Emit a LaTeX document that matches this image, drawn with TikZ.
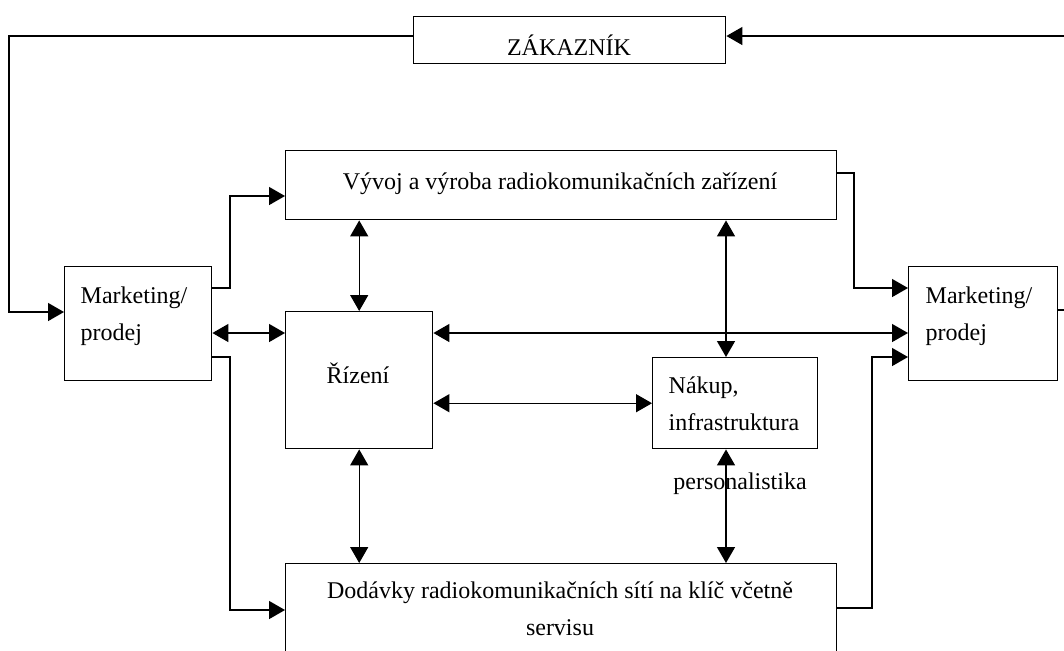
\documentclass[tikz,border=0pt]{standalone}
\usepackage{fontspec}
\setmainfont{Liberation Serif}
\usetikzlibrary{arrows.meta}

\tikzset{
  box/.style={draw, anchor=north west, inner sep=0pt},
  txt/.style={font=\fontsize{12}{18.5}\selectfont, inner sep=0pt},
  >={Triangle[length=8pt,width=9pt]}
}

\begin{document}
\begin{tikzpicture}[x=0.5pt,y=-0.5pt,line width=0.7pt]
  \path[use as bounding box, fill=white] (0,0) rectangle (1064,650);
  \clip (0,0) rectangle (1064,650);
  \node[box, minimum width=156pt, minimum height=23.5pt] at (413,16) (zak) {};
  \node[box, minimum width=275.5pt, minimum height=34.5pt] at (285,150) (vyvoj) {};
  \node[box, minimum width=73.5pt, minimum height=57pt] at (64,266) (mktL) {};
  \node[box, minimum width=74.5pt, minimum height=57pt] at (908,266) (mktR) {};
  \node[box, minimum width=73.5pt, minimum height=68.5pt] at (285,311) (rizeni) {};
  \node[box, minimum width=82.5pt, minimum height=45.5pt] at (652,357) (nakup) {};
  \node[box, minimum width=275.5pt, minimum height=60pt] at (285,563) (dodavky) {};
  \node[txt, anchor=base] at (569,55) (zakT) {ZÁKAZNÍK};
  \node[txt, anchor=base] at (560,189) (vyvojT) {Vývoj a výroba radiokomunikačních zařízení};
  \node[txt, anchor=base west, align=left] at (80,340) (mktLT) {Marketing/\\prodej};
  \node[txt, anchor=base west, align=left] at (925,340) (mktRT) {Marketing/\\prodej};
  \node[txt, anchor=base] at (358,383) (rizeniT) {Řízení};
  \node[txt, anchor=base west, align=left] at (668,430) (nakupT) {Nákup,\\infrastruktura};
  \node[txt, anchor=base] at (740,489) (persT) {personalistika};
  \node[txt, anchor=base, align=center] at (560,635) (dodavkyT) {Dodávky radiokomunikačních sítí na klíč včetně\\servisu};
  \coordinate (edgeT) at (1070,36);
  \coordinate (edgeR) at (1070,310);
  \draw[->] (zak.west |- 0,36) -| (9,312) -- (mktL.west |- 0,312);
  \draw[->] (edgeT) -- (zak.east |- 0,36);
  \draw (mktR.east |- 0,310) -- (edgeR);
  \draw[->] (mktL.east |- 0,288) -| (230,196) -- (vyvoj.west |- 0,196);
  \draw[->] (mktL.east |- 0,357) -| (230,610) -- (dodavky.west |- 0,610);
  \draw[<->] (mktL.east |- 0,333) -- (rizeni.west |- 0,333);
  \draw[<->] (vyvoj.south -| rizeni.north) -- (rizeni.north);
  \draw[<->] (726,0 |- vyvoj.south) -- (726,0 |- nakup.north);
  \draw[<->] (rizeni.east |- 0,333) -- (mktR.west |- 0,333);
  \draw[<->] (rizeni.east |- nakup.west) -- (nakup.west);
  \draw[<->] (rizeni.south) -- (rizeni.south |- dodavky.north);
  \draw[<->] (726,0 |- nakup.south) -- (726,0 |- dodavky.north);
  \draw[->] (vyvoj.east |- 0,173) -| (854,288) -- (mktR.west |- 0,288);
  \draw[->] (dodavky.east |- 0,608) -| (872,357) -- (mktR.west |- 0,357);
\end{tikzpicture}
\end{document}
